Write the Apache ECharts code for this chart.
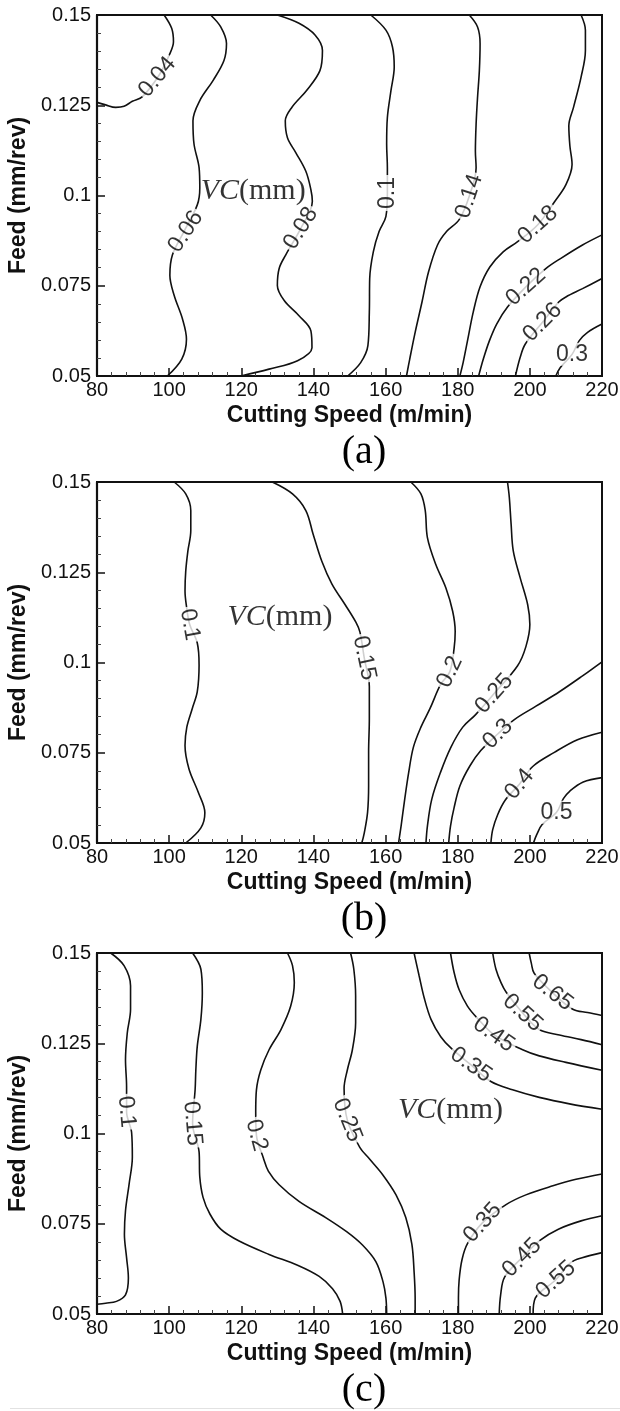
<!DOCTYPE html>
<html><head><meta charset="utf-8">
<script src="https://cdn.jsdelivr.net/npm/echarts@6/dist/echarts.min.js"></script>
<style>html,body{margin:0;padding:0;background:#fff}#c{width:620px;height:1411px}</style>
</head><body><div id="c"></div><script>
// ---- axis ticks ----
const speedTicks = [80,100,120,140,160,180,200,220];
const speedTickLabels = ['80','100','120','140','160','180','200','220'];
const feedTicks = [0.05,0.075,0.1,0.125,0.15];
const feedTickLabels = ['0.05','0.075','0.1','0.125','0.15'];
const panelCaptions = ['(a)','(b)','(c)'];

// ---- panel (a) contours: [cutting speed, feed] ----
const A_004 = [[98.6,0.15],[100.7,0.1463],[101.2,0.1426],[100.2,0.1393],[97.2,0.1333],[92.6,0.1274],[89.8,0.1261],[87.5,0.1247],[85.2,0.1244],[82.4,0.1251],[80,0.1258]];
const A_006 = [[111.5,0.15],[114.3,0.1467],[115.9,0.1421],[115.2,0.1374],[112.2,0.1319],[108.5,0.1263],[106.6,0.1207],[106.9,0.1142],[108.3,0.1077],[108.5,0.1021],[107.8,0.0974],[104.1,0.0900],[100.9,0.0835],[100.2,0.0779],[101.4,0.0723],[103.7,0.0658],[104.8,0.0602],[103.5,0.0547],[99.5,0.05]];
const A_008 = [[130.0,0.15],[136.0,0.1477],[140.5,0.1444],[142.5,0.1402],[141.8,0.1346],[138.1,0.1291],[134.0,0.1244],[132.2,0.1207],[132.8,0.1160],[135.1,0.1119],[137.9,0.1067],[139.3,0.1016],[139.7,0.0984],[136.5,0.0909],[132.3,0.0835],[130.5,0.0798],[130.0,0.0751],[131.9,0.0709],[136.0,0.0667],[139.3,0.0625],[139.6,0.0578],[135.6,0.0542],[127.7,0.0519],[119.9,0.05]];
const A_010 = [[155.9,0.15],[160.1,0.1458],[161.9,0.1412],[162.4,0.1356],[161.5,0.1291],[160.5,0.1216],[160.3,0.1142],[160.5,0.1077],[160.5,0.1007],[160.1,0.0942],[158.2,0.0900],[156.6,0.0844],[155.6,0.0770],[155.5,0.0677],[155.1,0.0584],[153.1,0.0537],[149.5,0.05]];
const A_014 = [[183.2,0.15],[185.5,0.1467],[186.2,0.1421],[186.0,0.1346],[185.5,0.1272],[185.1,0.1198],[184.9,0.1123],[185.1,0.1077],[183.2,0.0998],[180.4,0.0933],[176.9,0.0900],[174.4,0.0863],[171.9,0.0788],[170.1,0.0705],[168.2,0.0621],[166.7,0.0547],[165.8,0.05]];
const A_018 = [[214.2,0.15],[215.4,0.1458],[215.4,0.1402],[214.2,0.1328],[212.1,0.1244],[210.8,0.1193],[211.1,0.1137],[211.7,0.1086],[210.0,0.1030],[206.8,0.0982],[202.2,0.0919],[196.6,0.0872],[192.6,0.0844],[188.9,0.0802],[186.2,0.0747],[184.3,0.0677],[182.8,0.0602],[181.5,0.0537],[180.6,0.05]];
const A_022 = [[220,0.0891],[214.6,0.0863],[208.6,0.0826],[204.5,0.0798],[198.9,0.0747],[193.8,0.0691],[190.8,0.0644],[188.8,0.0598],[187.1,0.0547],[185.8,0.05]];
const A_026 = [[220,0.0770],[214.6,0.0742],[210.0,0.0719],[208.0,0.0705],[203.5,0.0649],[198.7,0.0588],[197.3,0.0551],[196.0,0.05]];
const A_030 = [[220,0.0644],[216.0,0.0621],[213.7,0.0598],[211.7,0.0560],[208.4,0.0523],[207.2,0.05]];
// contour labels: [text, speed, feed]
const A_labels = [['0.04',96.7,0.1328],['0.06',104.6,0.0900],['0.08',136.5,0.0909],['0.1',160.5,0.1007],['0.14',183.2,0.0998],['0.18',202.2,0.0919],['0.22',198.9,0.0747],['0.26',203.5,0.0649],['0.3',211.7,0.0560]];
const A_labelAngles = [50,56,58,90,72,42,42,45,0];
const A_vcPos = [123.3,0.1012];

// ---- panel (b) ----
const B_010 = [[101.4,0.15],[104.6,0.1467],[106.0,0.1421],[106.0,0.1365],[105.2,0.1309],[104.6,0.1253],[104.4,0.1198],[104.8,0.1156],[105.7,0.1105],[107.8,0.1054],[108.3,0.0993],[107.8,0.0919],[106.4,0.0872],[104.9,0.0821],[104.4,0.0770],[105.5,0.0705],[108.1,0.0640],[109.9,0.0584],[108.8,0.0542],[104.6,0.05]];
const B_015 = [[128.6,0.15],[134.2,0.1467],[137.9,0.1421],[139.9,0.1356],[142.3,0.1281],[145.1,0.1218],[148.8,0.1160],[151.8,0.1111],[152.9,0.1084],[154.1,0.1012],[155.5,0.0933],[155.5,0.0844],[155.3,0.0751],[155.3,0.0658],[155.0,0.0584],[154.1,0.0528],[153.4,0.05]];
const B_020 = [[167.0,0.15],[169.8,0.1467],[171.0,0.1421],[171.6,0.1346],[173.9,0.1272],[176.7,0.1207],[178.6,0.1142],[179.3,0.1086],[179.0,0.1039],[177.8,0.0974],[175.3,0.0940],[172.3,0.0872],[169.8,0.0821],[167.7,0.0765],[166.4,0.0695],[165.3,0.0621],[164.3,0.0547],[163.6,0.05]];
const B_025 = [[193.8,0.15],[194.3,0.1458],[194.8,0.1384],[195.4,0.1309],[197.3,0.1235],[199.4,0.1160],[200.0,0.1105],[198.9,0.1044],[196.6,0.0991],[190.1,0.0914],[184.9,0.0855],[181.4,0.0821],[178.1,0.0765],[175.2,0.0695],[172.8,0.0621],[171.6,0.0547],[171.2,0.05]];
const B_030 = [[220,0.1002],[214.6,0.0963],[208.2,0.0919],[201.7,0.0879],[195.7,0.0842],[191.1,0.0802],[186.4,0.0756],[183.4,0.0714],[180.6,0.0658],[179.0,0.0598],[178.0,0.0547],[177.5,0.05]];
const B_040 = [[220,0.0807],[213.2,0.0786],[206.8,0.0751],[200.8,0.0712],[197.1,0.0663],[193.2,0.0619],[191.1,0.0579],[189.7,0.0537],[189.2,0.05]];
const B_050 = [[220,0.0681],[214.8,0.0669],[211.1,0.0644],[209.3,0.0623],[207.4,0.0585],[203.4,0.0551],[201.9,0.0523],[201.0,0.05]];
const B_labels = [['0.1',105.7,0.1105],['0.15',154.1,0.1012],['0.2',177.8,0.0974],['0.25',190.1,0.0914],['0.3',191.1,0.0802],['0.4',197.1,0.0663],['0.5',207.4,0.0585]];
const B_labelAngles = [-80,-78,65,48,45,50,0];
const B_vcPos = [130.7,0.1125];

// ---- panel (c) ----
const C_010 = [[83.8,0.15],[87.5,0.1465],[89.3,0.1409],[89.3,0.1344],[88.4,0.1279],[87.9,0.1204],[88.2,0.1130],[88.2,0.1060],[89.6,0.1002],[89.8,0.0935],[88.9,0.0860],[87.9,0.0786],[87.6,0.0721],[88.2,0.0656],[88.7,0.0600],[87.9,0.0553],[85.4,0.0535],[82.4,0.0530],[80,0.0527]];
const C_015 = [[106.5,0.15],[108.8,0.1455],[109.2,0.1390],[108.8,0.1316],[107.8,0.1242],[107.4,0.1176],[107.2,0.1121],[106.5,0.1028],[108.3,0.0949],[108.5,0.0879],[109.4,0.0823],[111.3,0.0777],[114.3,0.0735],[119.4,0.0702],[127.7,0.0665],[135.6,0.0635],[141.6,0.0604],[145.3,0.0570],[147.4,0.0535],[148.1,0.05]];
const C_020 = [[132.8,0.15],[134.2,0.1465],[134.7,0.1418],[133.7,0.1353],[131.0,0.1288],[127.7,0.1232],[125.4,0.1176],[124.2,0.1121],[124.0,0.1060],[124.2,0.0995],[126.1,0.0933],[127.5,0.0896],[130.5,0.0858],[136.0,0.0812],[143.4,0.0767],[149.2,0.0728],[153.6,0.0691],[157.3,0.0645],[159.3,0.0589],[160.1,0.0544],[160.3,0.05]];
const C_025 = [[150.3,0.15],[151.2,0.1455],[151.7,0.1381],[151.7,0.1307],[150.8,0.1232],[149.4,0.1176],[148.5,0.1125],[149.4,0.1037],[152.9,0.0961],[155.5,0.0930],[159.2,0.0886],[162.9,0.0830],[165.6,0.0767],[167.3,0.0693],[167.9,0.0618],[168.2,0.0544],[168.2,0.05]];
const C_035u = [[167.9,0.15],[169.3,0.1437],[170.7,0.1376],[172.6,0.1316],[175.3,0.1268],[178.1,0.1237],[183.7,0.1190],[189.2,0.1144],[195.2,0.1121],[202.6,0.1100],[211.0,0.1082],[220,0.1067]];
const C_045u = [[178.0,0.15],[179.0,0.1446],[180.4,0.1398],[182.7,0.1353],[185.3,0.1321],[190.0,0.1274],[198.0,0.1232],[202.6,0.1215],[210.0,0.1197],[220,0.1175]];
const C_055u = [[189.7,0.15],[190.6,0.1455],[192.0,0.1418],[193.4,0.1392],[198.0,0.1334],[202.6,0.1288],[208.2,0.1273],[214.2,0.1260],[220,0.1246]];
const C_065 = [[199.8,0.15],[200.4,0.1472],[201.2,0.1444],[206.3,0.1390],[211.9,0.1344],[216.0,0.1335],[220,0.1327]];
const C_035l = [[220,0.0888],[212.8,0.0873],[206.4,0.0855],[198.9,0.0830],[193.4,0.0803],[186.9,0.0753],[182.7,0.0695],[181.2,0.0651],[180.4,0.0595],[180.2,0.0544],[180.2,0.05]];
const C_045l = [[220,0.0772],[214.2,0.0758],[207.9,0.0735],[202.8,0.0704],[197.8,0.0656],[193.0,0.0602],[191.9,0.0553],[191.5,0.05]];
const C_055l = [[220,0.0670],[214.5,0.0656],[211.3,0.0642],[207.2,0.0595],[201.5,0.0544],[200.9,0.05]];
const C_labels = [['0.1',88.2,0.1060],['0.15',106.5,0.1028],['0.2',124.2,0.0995],['0.25',149.4,0.1037],['0.35',183.7,0.1190],['0.45',190.0,0.1274],['0.55',198.0,0.1334],['0.65',206.3,0.1390],['0.35',186.9,0.0753],['0.45',197.8,0.0656],['0.55',207.2,0.0595]];
const C_labelAngles = [-85,-85,-75,-68,-35,-35,-42,-38,48,45,42];
const C_vcPos = [178.0,0.1065];

// ---- build ----
const panels = [
  {lines:[A_004,A_006,A_008,A_010,A_014,A_018,A_022,A_026,A_030], labels:A_labels, angles:A_labelAngles, vc:A_vcPos},
  {lines:[B_010,B_015,B_020,B_025,B_030,B_040,B_050], labels:B_labels, angles:B_labelAngles, vc:B_vcPos},
  {lines:[C_010,C_015,C_020,C_025,C_035u,C_045u,C_055u,C_065,C_035l,C_045l,C_055l], labels:C_labels, angles:C_labelAngles, vc:C_vcPos}
];
const gridTops = [15, 482, 953];
const plotH = 361, plotLeft = 97, plotW = 505;
const SANS = '"Liberation Sans", Arial, Helvetica, sans-serif';
const SERIF = '"Liberation Serif", "Times New Roman", serif';
const INK = '#000';

const grid = [], xAxis = [], yAxis = [], series = [], graphic = [];
panels.forEach((p, i) => {
  grid.push({left: plotLeft, width: plotW, top: gridTops[i], height: plotH, show: true,
    borderColor: '#111', borderWidth: 2, backgroundColor: 'transparent', containLabel: false, outerBoundsMode: 'none'});
  xAxis.push({gridIndex: i, type: 'value', min: 80, max: 220, interval: 20,
    axisLine: {show: true, onZero: false, lineStyle: {color: '#111', width: 2.2}},
    axisTick: {show: true, inside: true, length: 8, lineStyle: {color: '#111', width: 1.5}},
    minorTick: {show: true, splitNumber: 5, length: 4, lineStyle: {color: '#444', width: 1}},
    splitLine: {show: false},
    axisLabel: {fontSize: 20, color: '#111', fontFamily: SANS, margin: 4,
      formatter: v => { const k = speedTicks.indexOf(Math.round(v)); return k >= 0 ? speedTickLabels[k] : ''; }},
    name: 'Cutting Speed (m/min)', nameLocation: 'middle', nameGap: 28,
    nameTextStyle: {fontSize: 23, fontWeight: 'bold', color: '#111', fontFamily: SANS}
  });
  yAxis.push({gridIndex: i, type: 'value', min: 0.05, max: 0.15, interval: 0.025,
    axisLine: {show: true, onZero: false, lineStyle: {color: '#111', width: 2.2}},
    axisTick: {show: true, inside: true, length: 8, lineStyle: {color: '#111', width: 1.5}},
    minorTick: {show: true, splitNumber: 5, length: 4, lineStyle: {color: '#444', width: 1}},
    splitLine: {show: false},
    axisLabel: {fontSize: 20, color: '#111', fontFamily: SANS, margin: 6,
      formatter: v => { const k = feedTicks.findIndex(t => Math.abs(t - v) < 1e-6); return k >= 0 ? feedTickLabels[k] : ''; }},
    name: 'Feed (mm/rev)', nameLocation: 'middle', nameGap: 66,
    nameTextStyle: {fontSize: 23, fontWeight: 'bold', color: '#111', fontFamily: SANS}
  });
  p.lines.forEach(d => series.push({type: 'line', xAxisIndex: i, yAxisIndex: i, data: d,
    smooth: 0.35, symbol: 'none', showSymbol: false, silent: true, z: 2,
    lineStyle: {color: '#111', width: 1.6}}));
  series.push({type: 'scatter', xAxisIndex: i, yAxisIndex: i, z: 5, silent: true,
    symbolSize: 0, itemStyle: {color: INK},
    data: p.labels.map((l, k) => ({value: [l[1], l[2]], label: {show: true, position: 'inside',
      formatter: l[0], rotate: p.angles[k], fontSize: 23, color: INK, fontFamily: SANS,
      textBorderWidth: 0, backgroundColor: '#fff', padding: [0, 2]}}))});
  series.push({type: 'scatter', xAxisIndex: i, yAxisIndex: i, z: 5, silent: true,
    symbolSize: 0, itemStyle: {color: INK},
    data: [{value: p.vc, label: {show: true, position: 'inside', formatter: '{i|VC}{n|(mm)}', textBorderWidth: 0,
      rich: {i: {fontStyle: 'italic', fontFamily: SERIF, fontSize: 30, color: INK},
             n: {fontFamily: SERIF, fontSize: 30, color: INK}}}}]});
  graphic.push({type: 'text', x: 364, y: gridTops[i] + plotH + 76, z: 10,
    style: {text: panelCaptions[i], fontFamily: SERIF, fontSize: 40, fill: INK, align: 'center', verticalAlign: 'middle'}});
});
graphic.push({type: 'rect', shape: {x: 10, y: 1408, width: 610, height: 1}, style: {fill: '#e2e2e2'}});

const chart = echarts.init(document.getElementById('c'), null, {renderer: 'canvas'});
chart.setOption({animation: false, backgroundColor: '#fff', grid, xAxis, yAxis, series, graphic});
</script></body></html>
